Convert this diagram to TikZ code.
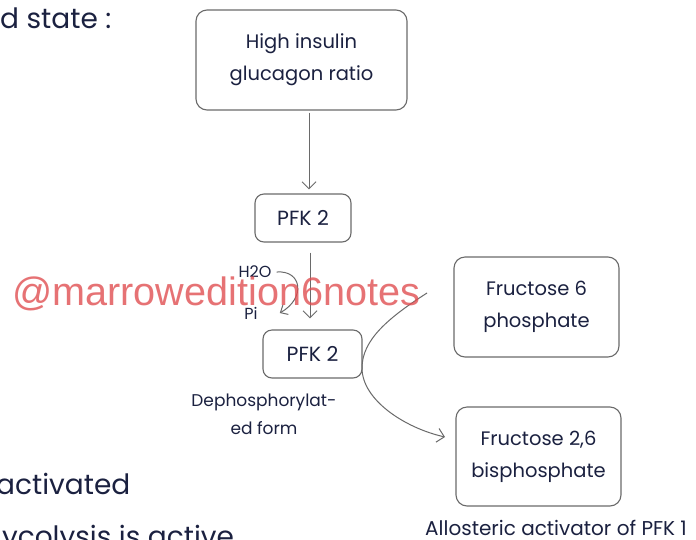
\documentclass[tikz,border=0pt]{standalone}
\usepackage{fontspec}
\setmainfont{Poppins}
\newfontfamily\markfont{Liberation Sans}
\usetikzlibrary{arrows.meta}
\definecolor{ink}{HTML}{1B2140}
\definecolor{rim}{HTML}{6A6A6A}
\definecolor{stamp}{HTML}{E04B4E}
\begin{document}
\begin{tikzpicture}[x=1pt,y=-1pt,
  box/.style={draw=rim, line width=1.1pt, rounded corners=11pt, text=ink, align=center,
              font=\fontsize{19.5}{32}\selectfont, inner sep=0pt},
  note/.style={text=ink, align=center, inner sep=0pt, font=\fontsize{17}{28}\selectfont},
  big/.style={text=ink, inner sep=0pt, font=\fontsize{28}{30}\selectfont},
  link/.style={draw=rim, line width=1pt, -{Straight Barb[length=7pt,width=14pt]}},
  hook/.style={draw=rim, line width=1pt, -{Straight Barb[length=6pt,width=11pt]}},
]
\useasboundingbox (0,0) rectangle (696,539);
\clip (0,0) rectangle (696,539);
\fill[white] (0,0) rectangle (696,539);

% headings, partly running off the page
\node[big, anchor=base west] (fed) at (0,28) {d state :};
\node[big, anchor=base west] (act) at (-4,494) {activated};
\node[big, anchor=base west] (gly) at (-24,546) {glycolysis is active};

% boxes
\node[box, minimum width=211pt, minimum height=100pt] (ratio) at (301.5,60) {High insulin\\glucagon ratio};
\node[box, minimum width=96pt, minimum height=48pt, rounded corners=9pt,
      font=\fontsize{20.5}{24}\selectfont] (pfkA) at (303,218) {PFK 2};
\node[box, minimum width=99pt, minimum height=48pt, rounded corners=9pt,
      font=\fontsize{20.5}{24}\selectfont] (pfkB) at (312.5,354) {PFK 2};
\node[box, minimum width=165pt, minimum height=100pt] (f6p) at (536.5,307) {Fructose 6\\phosphate};
\node[box, minimum width=165pt, minimum height=99pt] (f26) at (538.5,456.5) {Fructose 2,6\\bisphosphate};

% labels
\node[note] (deph) at (264,414) {Dephosphorylat-\\ed form};
\node[note, anchor=base west, font=\fontsize{20}{24}\selectfont] (allo) at (425,535) {Allosteric activator of PFK 1};
\node[note, font=\fontsize{16}{18}\selectfont] (h2o) at (255,272) {H2O};
\node[note, font=\fontsize{16}{18}\selectfont] (pi) at (251,313) {Pi};

% straight arrows
\draw[link, shorten <=2pt, shorten >=4pt] ([xshift=7.5pt]ratio.south) -- ([xshift=6pt]pfkA.north);
\draw[link, shorten <=10pt, shorten >=11pt] ([xshift=7pt]pfkA.south) -- ([xshift=-2.5pt]pfkB.north);

% water in, phosphate out
\draw[hook] ([xshift=5pt]h2o.east) .. controls (302,270) and (306,298) .. ([xshift=22pt]pi.east);

% fructose 6-phosphate to fructose 2,6-bisphosphate past PFK 2
\coordinate (c1) at (427,293);
\coordinate (c2) at (445,437);
\draw[link] (c1) .. controls (388,318) and (362,340) .. (362,368)
            .. controls (362,400) and (405,428) .. (c2);

% watermark
\node[anchor=base west, inner sep=0pt, text=stamp, opacity=0.78,
      font=\markfont\fontsize{39.6}{40}\selectfont] (mark) at (12,305) {@marrowedition6notes};
\end{tikzpicture}
\end{document}
